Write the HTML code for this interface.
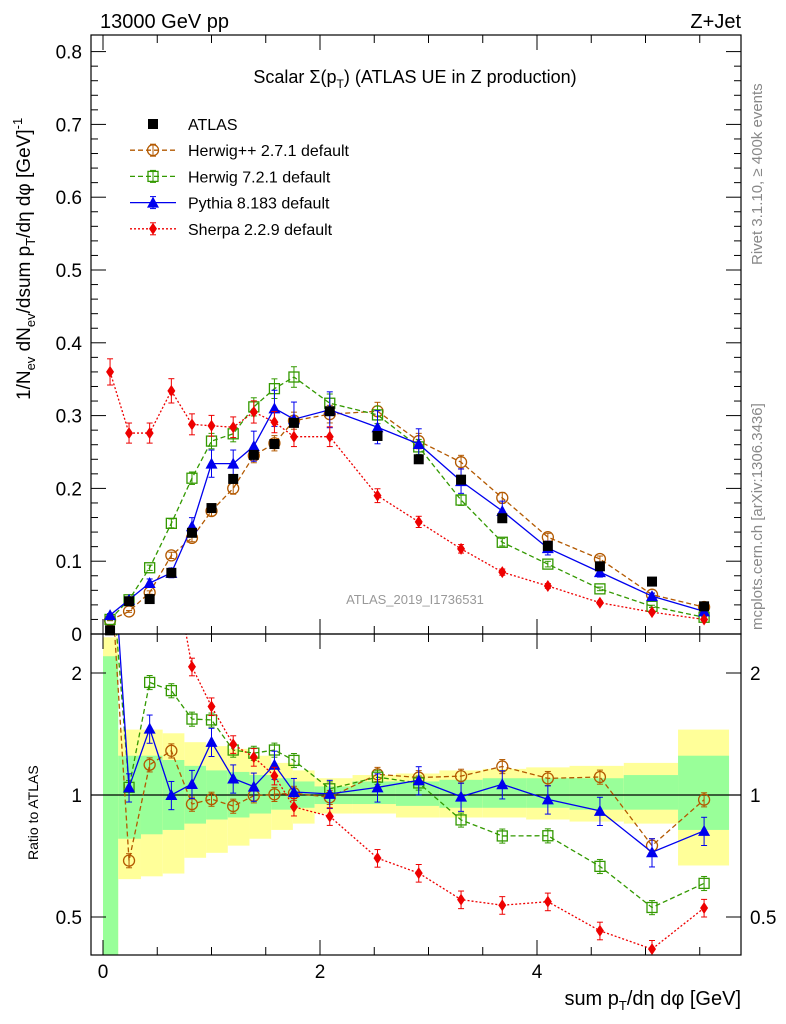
<!DOCTYPE html>
<html><head><meta charset="utf-8"><style>
body{margin:0;background:#fff;}
svg{display:block;font-family:"Liberation Sans",sans-serif;}
</style></head><body>
<svg id="chart" width="786" height="1024" viewBox="0 0 786 1024">
<g id="bands"></g>
<g id="grid"></g>
<g id="series"></g>
<rect x="91" y="35" width="650" height="599" fill="none" stroke="#000" stroke-width="1.2"/>
<rect x="91" y="634" width="650" height="321" fill="none" stroke="#000" stroke-width="1.2"/>
<text x="100" y="28" font-size="20">13000 GeV pp</text>
<text x="741" y="28" font-size="20" text-anchor="end">Z+Jet</text>
<text x="415" y="83" font-size="18" text-anchor="middle">Scalar Σ(p<tspan font-size="12" dy="5">T</tspan><tspan dy="-5">) (ATLAS UE in Z production)</tspan></text>
<text x="415" y="604" font-size="13" fill="#999" text-anchor="middle">ATLAS_2019_I1736531</text>
<text transform="translate(762,265) rotate(-90)" font-size="15" fill="#888">Rivet 3.1.10, ≥ 400k events</text>
<text transform="translate(762,630) rotate(-90)" font-size="15" fill="#888">mcplots.cern.ch [arXiv:1306.3436]</text>
<text transform="translate(30,400) rotate(-90)" font-size="19">1/N<tspan font-size="13" dy="5">ev</tspan><tspan dy="-5"> dN</tspan><tspan font-size="13" dy="5">ev</tspan><tspan dy="-5">/dsum p</tspan><tspan font-size="13" dy="5">T</tspan><tspan dy="-5">/dη dφ  [GeV]</tspan><tspan font-size="13" dy="-8">-1</tspan></text>
<text transform="translate(38,860) rotate(-90)" font-size="14">Ratio to ATLAS</text>
<text x="741" y="1005" font-size="20" text-anchor="end">sum p<tspan font-size="13" dy="5">T</tspan><tspan dy="-5">/dη dφ [GeV]</tspan></text>
<g id="legend"></g>
</svg>
<script>
const xCenters=[0.065,0.24,0.43,0.63,0.82,1.0,1.2,1.39,1.58,1.76,2.09,2.53,2.91,3.3,3.68,4.1,4.58,5.06,5.54];
const binEdges=[0,0.14,0.35,0.55,0.75,0.95,1.15,1.35,1.55,1.75,1.95,2.3,2.7,3.1,3.5,3.9,4.3,4.8,5.3,5.77];
const atlas=[0.005,0.045,0.048,0.084,0.139,0.173,0.213,0.246,0.261,0.29,0.306,0.272,0.24,0.212,0.159,0.121,0.093,0.072,0.038];
const herwigpp=[0.019,0.031,0.057,0.108,0.132,0.169,0.2,0.245,0.262,0.293,0.302,0.306,0.265,0.236,0.187,0.133,0.103,0.054,0.037];
const herwig7=[0.02,0.047,0.091,0.152,0.214,0.265,0.275,0.312,0.337,0.353,0.317,0.301,0.257,0.184,0.126,0.096,0.062,0.038,0.023];
const pythia=[0.026,0.047,0.07,0.084,0.148,0.234,0.234,0.258,0.31,0.295,0.308,0.284,0.261,0.21,0.169,0.118,0.085,0.052,0.031];
const sherpa=[0.36,0.276,0.276,0.334,0.288,0.286,0.284,0.305,0.291,0.271,0.271,0.19,0.154,0.117,0.085,0.066,0.043,0.03,0.02];
const yellowLo=[0.4,0.62,0.63,0.64,0.7,0.72,0.75,0.78,0.82,0.85,0.9,0.9,0.88,0.88,0.88,0.87,0.86,0.85,0.67];
const yellowHi=[2.45,1.45,1.45,1.42,1.35,1.32,1.3,1.25,1.2,1.15,1.1,1.12,1.13,1.15,1.16,1.17,1.18,1.2,1.45];
const greenLo=[0.4,0.78,0.8,0.82,0.85,0.87,0.88,0.9,0.92,0.93,0.95,0.95,0.94,0.93,0.93,0.93,0.92,0.92,0.82];
const greenHi=[2.2,1.25,1.25,1.22,1.18,1.15,1.14,1.12,1.1,1.08,1.05,1.08,1.08,1.09,1.1,1.1,1.1,1.12,1.25];
const yTicks=[0,0.1,0.2,0.3,0.4,0.5,0.6,0.7,0.8];
const xTicks=[0,2,4];
const rTicks=[0.5,1,2];

const NS="http://www.w3.org/2000/svg";
const X=v=>103+v*108.5;
const Y=v=>634-v*728;
const R=v=>795-Math.log2(v)*122;
function mk(tag,attrs,parent){const e=document.createElementNS(NS,tag);for(const k in attrs)e.setAttribute(k,attrs[k]);parent.appendChild(e);return e;}
const svg=document.getElementById('chart');
const bands=document.getElementById('bands');
const grid=document.getElementById('grid');
const ser=document.getElementById('series');
const clampR=v=>Math.max(634,Math.min(955,v));

for(let i=0;i<xCenters.length;i++){
  const x0=X(binEdges[i]),x1=X(binEdges[i+1]);
  const yb=mk('rect',{x:x0,y:clampR(R(yellowHi[i])),width:x1-x0,height:clampR(R(yellowLo[i]))-clampR(R(yellowHi[i])),fill:'#ffff99'},bands);
  
  
  const gb=mk('rect',{x:x0,y:clampR(R(greenHi[i])),width:x1-x0,height:clampR(R(greenLo[i]))-clampR(R(greenHi[i])),fill:'#99ff99'},bands);
  
  
}
mk('line',{x1:91,x2:741,y1:R(1),y2:R(1),stroke:'#000','stroke-width':1.2},grid);

yTicks.forEach(v=>{
  mk('line',{x1:91,x2:106,y1:Y(v),y2:Y(v),stroke:'#000'},grid);
  mk('line',{x1:741,x2:726,y1:Y(v),y2:Y(v),stroke:'#000'},grid);
  const t=mk('text',{x:82,y:Y(v)+7,'font-size':19,'text-anchor':'end'},grid);t.textContent=v===0?'0':v.toFixed(1);
  
  
  for(let m=1;m<5&&v<0.8;m++){const mv=v+m*0.02;mk('line',{x1:91,x2:98,y1:Y(mv),y2:Y(mv),stroke:'#000'},grid);mk('line',{x1:741,x2:734,y1:Y(mv),y2:Y(mv),stroke:'#000'},grid);}
});
for(let v=0;v<=5.5;v+=0.5){
  const maj=(v%2===0);const L=maj?15:8;
  mk('line',{x1:X(v),x2:X(v),y1:634,y2:634-L,stroke:'#000'},grid);
  mk('line',{x1:X(v),x2:X(v),y1:35,y2:35+L,stroke:'#000'},grid);
  mk('line',{x1:X(v),x2:X(v),y1:955,y2:955-L,stroke:'#000'},grid);
  mk('line',{x1:X(v),x2:X(v),y1:634,y2:634+L,stroke:'#000'},grid);
}
xTicks.forEach(v=>{const t=mk('text',{x:X(v),y:978,'font-size':19,'text-anchor':'middle'},grid);t.textContent=v;
  
  });
rTicks.forEach(v=>{
  mk('line',{x1:91,x2:106,y1:R(v),y2:R(v),stroke:'#000'},grid);
  mk('line',{x1:741,x2:726,y1:R(v),y2:R(v),stroke:'#000'},grid);
  [[82,'end'],[750,'start']].forEach(([x,a])=>{const t=mk('text',{x:x,y:R(v)+7,'font-size':19,'text-anchor':a},grid);t.textContent=v;
    
    });
});

const models=[
 {vals:herwigpp,color:'#b35900',dash:'5,3',marker:'circle',err:0.04,name:'herwigpp',label:'Herwig++ 2.7.1 default'},
 {vals:herwig7,color:'#339900',dash:'5,3',marker:'square',err:0.04,name:'herwig7',label:'Herwig 7.2.1 default'},
 {vals:pythia,color:'#0000ee',dash:'',marker:'triangle',err:0.08,name:'pythia',label:'Pythia 8.183 default'},
 {vals:sherpa,color:'#ee0000',dash:'2,2',marker:'diamond',err:0.05,name:'sherpa',label:'Sherpa 2.2.9 default'}
];
function marker(g,type,x,y,c){
  if(type==='circle')return mk('circle',{cx:x,cy:y,r:5.5,fill:'none',stroke:c,'stroke-width':1.3},g);
  if(type==='square')return mk('rect',{x:x-5,y:y-5,width:10,height:10,fill:'none',stroke:c,'stroke-width':1.3},g);
  if(type==='triangle')return mk('polygon',{points:`${x},${y-6} ${x-6},${y+5} ${x+6},${y+5}`,fill:c},g);
  if(type==='diamond')return mk('polygon',{points:`${x},${y-6} ${x-4},${y} ${x},${y+6} ${x+4},${y}`,fill:c},g);
  if(type==='fsquare')return mk('rect',{x:x-5,y:y-5,width:10,height:10,fill:c},g);
}
function errbar(g,x,y1,y2,c,dash){
  mk('line',{x1:x,x2:x,y1:y1,y2:y2,stroke:c,'stroke-dasharray':dash},g);
  mk('line',{x1:x-3,x2:x+3,y1:y1,y2:y1,stroke:c},g);
  mk('line',{x1:x-3,x2:x+3,y1:y2,y2:y2,stroke:c},g);
}
const clip=mk('clipPath',{id:'rclip'},svg);mk('rect',{x:91,y:634,width:650,height:321},clip);
const clipM=mk('clipPath',{id:'mclip'},svg);mk('rect',{x:91,y:35,width:650,height:599},clipM);
models.forEach(m=>{
  const g=mk('g',{'clip-path':'url(#mclip)'},ser);
  
  
  mk('polyline',{points:m.vals.map((v,i)=>X(xCenters[i])+','+Y(v)).join(' '),fill:'none',stroke:m.color,'stroke-width':1.3,'stroke-dasharray':m.dash},g);
  m.vals.forEach((v,i)=>{errbar(g,X(xCenters[i]),Y(v*(1+m.err)),Y(v*(1-m.err)),m.color,'');
    const p=marker(g,m.marker,X(xCenters[i]),Y(v),m.color);
    
    });
  const rg=mk('g',{'clip-path':'url(#rclip)'},ser);
  
  
  const rat=m.vals.map((v,i)=>v/atlas[i]);
  mk('polyline',{points:rat.map((r,i)=>X(xCenters[i])+','+R(r)).join(' '),fill:'none',stroke:m.color,'stroke-width':1.3,'stroke-dasharray':m.dash},rg);
  rat.forEach((r,i)=>{errbar(rg,X(xCenters[i]),R(r*(1+m.err)),R(r*(1-m.err)),m.color,'');
    const p=marker(rg,m.marker,X(xCenters[i]),R(r),m.color);
    
    });
});
const ag=mk('g',{},ser);


atlas.forEach((v,i)=>{const p=marker(ag,'fsquare',X(xCenters[i]),Y(v),'#000');
  
  });

const lg=document.getElementById('legend');
const entries=[{label:'ATLAS',marker:'fsquare',color:'#000',dash:null}].concat(models);
entries.forEach((e,i)=>{
  const y=124+i*26.2;
  const g=mk('g',{},lg);
  
  
  if(e.dash!==null){mk('line',{x1:130,x2:176,y1:y,y2:y,stroke:e.color,'stroke-width':1.3,'stroke-dasharray':e.dash},g);
    errbar(g,153,y-6,y+6,e.color,'');}
  marker(g,e.marker,153,y,e.color);
  const t=mk('text',{x:188,y:y+6,'font-size':16},g);t.textContent=e.label;
});
</script>
</body></html>
